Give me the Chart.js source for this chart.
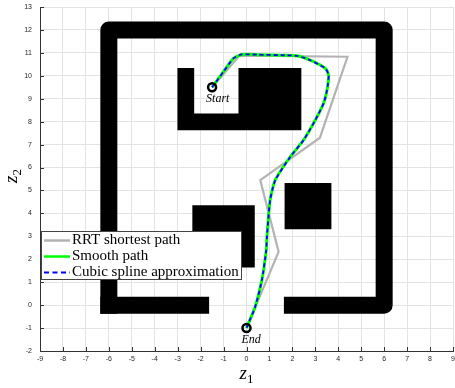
<!DOCTYPE html>
<html>
<head>
<meta charset="utf-8">
<script src="https://cdn.jsdelivr.net/npm/chart.js@4"></script>
<style>
  html, body { margin: 0; padding: 0; background: #fff; }
  #wrap { width: 455px; height: 388px; }
</style>
</head>
<body>
<div id="wrap"><canvas id="pathChart"></canvas></div>
<script>
// ---------- Data ----------
const xTicks = [-9, -8, -7, -6, -5, -4, -3, -2, -1, 0, 1, 2, 3, 4, 5, 6, 7, 8, 9];
const yTicks = [-2, -1, 0, 1, 2, 3, 4, 5, 6, 7, 8, 9, 10, 11, 12, 13];

const startPt = [-1.5, 9.5];
const endPt = [0, -1];

const rrtX = [-1.5, -0.3, 4.4, 3.2, 0.6, 1.4, 0];
const rrtY = [9.5, 10.88, 10.83, 7.3, 5.45, 2.33, -1];

const smoothX = [-1.5, -1.0, -0.57, -0.2, 0.5, 1.5, 2.2, 2.78, 3.44, 3.58, 3.51, 3.36, 3.0, 2.49, 1.91, 1.25, 1.03, 0.89, 0.86, 0.67, 0.38, 0];
const smoothY = [9.5, 10.18, 10.76, 10.93, 10.92, 10.9, 10.87, 10.68, 10.32, 10.03, 9.38, 8.8, 8.07, 7.2, 6.47, 5.45, 4.58, 2.98, 2.4, 1.09, -0.07, -1];

const splineX = [-1.5, -1.0, -0.57, -0.2, 0.5, 1.5, 2.2, 2.78, 3.44, 3.58, 3.51, 3.36, 3.0, 2.49, 1.91, 1.26, 1.03, 0.89, 0.86, 0.67, 0.38, 0];
const splineY = [9.5, 10.18, 10.76, 10.93, 10.92, 10.9, 10.87, 10.68, 10.32, 10.03, 9.38, 8.8, 8.07, 7.2, 6.47, 5.46, 4.58, 2.98, 2.4, 1.09, -0.07, -1];

// obstacles
const wallX = [-6, -6, 6, 6, 2];
const wallY = [0, 12, 12, 0, 0];
const wallLeftX = [-2, -6];
const wallLeftY = [0, 0];
const blockTopX = [-3.01, -2.28, -2.28, -0.35, -0.35, 2.39, 2.39, -3.01, -3.01];
const blockTopY = [10.34, 10.34, 8.36, 8.36, 10.34, 10.34, 7.63, 7.63, 10.34];
const blockMidX = [-2.36, 0.36, 0.36, -2.36, -2.36];
const blockMidY = [4.36, 4.36, 1.64, 1.64, 4.36];
const blockRightX = [1.66, 3.7, 3.7, 1.66, 1.66];
const blockRightY = [5.33, 5.33, 3.31, 3.31, 5.33];

const legendLabels = ["RRT shortest path", "Smooth path", "Cubic spline approximation"];

// thick wall lines shouldn't push the plot area inwards
const LineCtrl = Chart.LineController || Chart.registry.getController('line');
LineCtrl.prototype.getMaxOverflow = function () { return 0; };

// --- Helpers ---
function pts(xs, ys) {
  return xs.map((x, i) => ({ x: x, y: ys[i] }));
}

function obstacle(xs, ys) {
  return {
    data: pts(xs, ys), borderWidth: 0, backgroundColor: '#000', borderColor: '#000',
    fill: 'shape', pointRadius: 0, tension: 0, order: 10
  };
}

function wall(xs, ys) {
  return {
    data: pts(xs, ys), borderWidth: 17, borderColor: '#000', fill: false,
    borderCapStyle: 'square', borderJoinStyle: 'round', pointRadius: 0, tension: 0, order: 10
  };
}

const serif = '"Liberation Serif", "Times New Roman", serif';

const decorPlugin = {
  id: 'decor',
  beforeDatasetsDraw(chart) {
    const ctx = chart.ctx;
    const { left, bottom } = chart.chartArea;
    const xs = chart.scales.x, ys = chart.scales.y;
    ctx.save();
    ctx.strokeStyle = '#333';
    ctx.lineWidth = 1;
    ctx.beginPath();
    xTicks.forEach(v => {
      const px = Math.round(xs.getPixelForValue(v)) + 0.5;
      ctx.moveTo(px, bottom); ctx.lineTo(px, bottom - 4);
    });
    yTicks.forEach(v => {
      const py = Math.round(ys.getPixelForValue(v)) + 0.5;
      ctx.moveTo(left, py); ctx.lineTo(left + 4, py);
    });
    ctx.stroke();
    ctx.restore();
  },
  afterDraw(chart) {
    const ctx = chart.ctx;
    const xs = chart.scales.x, ys = chart.scales.y;
    const area = chart.chartArea;
    ctx.save();

    // Start / End labels
    ctx.fillStyle = '#000';
    ctx.font = 'italic 12px ' + serif;
    ctx.textAlign = 'left';
    ctx.textBaseline = 'alphabetic';
    ctx.fillText('Start', xs.getPixelForValue(startPt[0]) - 6, ys.getPixelForValue(startPt[1]) + 15);
    ctx.fillText('End', xs.getPixelForValue(endPt[0]) - 5, ys.getPixelForValue(endPt[1]) + 15);

    // Legend box
    const lx = area.left + 1, ly = 231, lw = 200, lh = 48;
    ctx.fillStyle = '#fff';
    ctx.fillRect(lx, ly, lw, lh);
    ctx.strokeStyle = '#444';
    ctx.lineWidth = 1;
    ctx.strokeRect(lx + 0.5, ly + 0.5, lw, lh);
    const styles = [
      { color: '#b3b3b3', width: 2.5, dash: [] },
      { color: '#00ff00', width: 2.5, dash: [] },
      { color: '#0000ff', width: 1.8, dash: [5, 3.5] }
    ];
    ctx.font = '15px ' + serif;
    ctx.textBaseline = 'middle';
    legendLabels.forEach((lbl, i) => {
      const yy = ly + 9.5 + i * 16;
      ctx.strokeStyle = styles[i].color;
      ctx.lineWidth = styles[i].width;
      ctx.setLineDash(styles[i].dash);
      ctx.beginPath();
      ctx.moveTo(lx + 3, yy); ctx.lineTo(lx + 29, yy);
      ctx.stroke();
      ctx.setLineDash([]);
      ctx.fillStyle = '#000';
      ctx.fillText(lbl, lx + 31, yy);
    });

    // Axis titles z_1 and z_2
    ctx.textBaseline = 'alphabetic';
    ctx.textAlign = 'left';
    const drawZ = (x, y) => {
      ctx.font = 'italic 19px ' + serif;
      const w = ctx.measureText('z').width;
      ctx.fillText('z', x, y);
      return w;
    };
    const cx = (area.left + area.right) / 2;
    ctx.fillStyle = '#000';
    let w = drawZ(cx - 7, 379);
    ctx.font = '13px ' + serif;
    ctx.fillText('1', cx - 7 + w, 383);

    ctx.translate(17, (area.top + area.bottom) / 2 - 5);
    ctx.rotate(-Math.PI / 2);
    w = drawZ(-9, 0);
    ctx.font = '13px ' + serif;
    ctx.fillText('2', -9 + w, 4);
    ctx.restore();
  }
};

// ---------- Build Chart ----------
function initChart() {
  const ctx = document.getElementById('pathChart');
  new Chart(ctx, {
    type: 'line',
    data: {
      datasets: [
        {
          label: 'markers', data: [{ x: startPt[0], y: startPt[1] }, { x: endPt[0], y: endPt[1] }],
          showLine: false, pointRadius: 4, pointBorderWidth: 2.5, pointBorderColor: '#000',
          pointBackgroundColor: 'rgba(0,0,0,0)', order: 0
        },
        {
          label: legendLabels[2], data: pts(splineX, splineY), borderColor: '#0000ff', borderWidth: 1.8,
          borderDash: [4, 3], pointRadius: 0, tension: 0.2, fill: false, order: 1
        },
        {
          label: legendLabels[1], data: pts(smoothX, smoothY), borderColor: '#00ff00', borderWidth: 3,
          pointRadius: 0, tension: 0.2, fill: false, order: 2
        },
        {
          label: legendLabels[0], data: pts(rrtX, rrtY), borderColor: '#b3b3b3', borderWidth: 2.2,
          pointRadius: 0, tension: 0, fill: false, order: 3
        },
        wall(wallX, wallY),
        wall(wallLeftX, wallLeftY),
        obstacle(blockTopX, blockTopY),
        obstacle(blockMidX, blockMidY),
        obstacle(blockRightX, blockRightY)
      ]
    },
    options: {
      responsive: true,
      maintainAspectRatio: false,
      animation: false,
      layout: { padding: { top: 7, right: 2, left: 0, bottom: 0 } },
      plugins: { legend: { display: false }, tooltip: { enabled: false } },
      scales: {
        x: {
          type: 'linear', min: -9, max: 9,
          afterBuildTicks: s => { s.ticks = xTicks.map(v => ({ value: v })); },
          afterFit: s => { s.height = 37; s.paddingLeft = 0; s.paddingRight = 0; },
          ticks: { color: '#262626', font: { size: 7, family: '"Liberation Sans", Arial, sans-serif' }, padding: 4, maxRotation: 0, autoSkip: false },
          grid: { color: '#e3e3e3', drawTicks: false, lineWidth: 1 },
          border: { color: '#333', width: 1 }
        },
        y: {
          type: 'linear', min: -2, max: 13,
          afterBuildTicks: s => { s.ticks = yTicks.map(v => ({ value: v })); },
          afterFit: s => { s.width = 40; s.paddingTop = 0; s.paddingBottom = 0; },
          ticks: { color: '#262626', font: { size: 7, family: '"Liberation Sans", Arial, sans-serif' }, padding: 8, autoSkip: false },
          grid: { color: '#e3e3e3', drawTicks: false, lineWidth: 1 },
          border: { color: '#333', width: 1 }
        }
      }
    },
    plugins: [decorPlugin]
  });
}

document.addEventListener("DOMContentLoaded", initChart);
</script>
</body>
</html>
